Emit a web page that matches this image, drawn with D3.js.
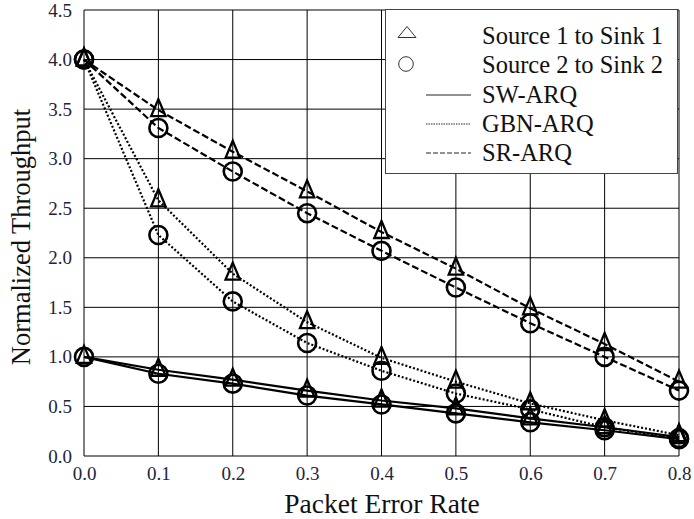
<!DOCTYPE html>
<html>
<head>
<meta charset="utf-8">
<script src="https://cdn.jsdelivr.net/npm/d3@7"></script>
<style>
  body { margin: 0; background: #fff; }
  text { font-family: "Liberation Serif", "Times New Roman", serif; }
</style>
</head>
<body>
<script>
"use strict";

const width = 694;
const height = 519;

const per = [0.0, 0.1, 0.2, 0.3, 0.4, 0.5, 0.6, 0.7, 0.8];
const xTicks = [0.0, 0.1, 0.2, 0.3, 0.4, 0.5, 0.6, 0.7, 0.8];
const yTicks = [0.0, 0.5, 1.0, 1.5, 2.0, 2.5, 3.0, 3.5, 4.0, 4.5];

// Source 1 to Sink 1 (triangles)
const sw1 = [1.0, 0.87, 0.77, 0.66, 0.56, 0.48, 0.38, 0.29, 0.19];
const gbn1 = [4.0, 2.58, 1.84, 1.35, 0.99, 0.75, 0.53, 0.36, 0.21];
const sr1 = [4.0, 3.49, 3.07, 2.67, 2.26, 1.89, 1.49, 1.13, 0.75];
// Source 2 to Sink 2 (circles)
const sw2 = [1.0, 0.83, 0.73, 0.61, 0.52, 0.43, 0.34, 0.26, 0.17];
const gbn2 = [4.0, 2.23, 1.56, 1.14, 0.86, 0.63, 0.47, 0.29, 0.18];
const sr2 = [4.0, 3.31, 2.87, 2.45, 2.07, 1.70, 1.34, 1.00, 0.66];

const series = [
  { name: "SW-ARQ", values: sw1, marker: "triangle", dash: null },
  { name: "SW-ARQ", values: sw2, marker: "circle", dash: null },
  { name: "GBN-ARQ", values: gbn1, marker: "triangle", dash: "2,2" },
  { name: "GBN-ARQ", values: gbn2, marker: "circle", dash: "2,2" },
  { name: "SR-ARQ", values: sr1, marker: "triangle", dash: "7,3" },
  { name: "SR-ARQ", values: sr2, marker: "circle", dash: "7,3" }
];

const margin = { top: 10, right: 15, bottom: 63, left: 84 };

const svg = d3.select("body").append("svg")
  .attr("width", width)
  .attr("height", height);

const x = d3.scaleLinear().domain([0, 0.8]).range([margin.left, width - margin.right]);
const y = d3.scaleLinear().domain([0, 4.5]).range([height - margin.bottom, margin.top]);

// grid
const grid = svg.append("g").attr("class", "grid");
grid.selectAll(".vline").data(xTicks).enter().append("line")
  .attr("x1", d => x(d)).attr("x2", d => x(d))
  .attr("y1", y(0)).attr("y2", y(4.5))
  .attr("stroke", "#000").attr("stroke-width", 1);
grid.selectAll(".hline").data(yTicks).enter().append("line")
  .attr("x1", x(0)).attr("x2", x(0.8))
  .attr("y1", d => y(d)).attr("y2", d => y(d))
  .attr("stroke", "#000").attr("stroke-width", 1);

// axes (labels only)
const xAxis = svg.append("g")
  .attr("transform", `translate(0,${y(0)})`)
  .call(d3.axisBottom(x).tickValues(xTicks).tickFormat(d3.format(".1f")).tickSize(0).tickPadding(11));
const yAxis = svg.append("g")
  .attr("transform", `translate(${x(0)},0)`)
  .call(d3.axisLeft(y).tickValues(yTicks).tickFormat(d3.format(".1f")).tickSize(0).tickPadding(12));
[xAxis, yAxis].forEach(a => {
  a.select(".domain").remove();
  a.selectAll("text")
    .attr("font-family", "Liberation Serif")
    .attr("font-size", 19)
    .attr("fill", "#22243a");
});

svg.append("text")
  .attr("x", 382)
  .attr("y", 513)
  .attr("text-anchor", "middle")
  .attr("font-size", 27.5)
  .attr("fill", "#111")
  .text("Packet Error Rate");

svg.append("text")
  .attr("transform", `translate(30,237) rotate(-90)`)
  .attr("text-anchor", "middle")
  .attr("font-size", 26.5)
  .attr("fill", "#111")
  .text("Normalized Throughput");

// lines
const line = d3.line()
  .x((d, i) => x(per[i]))
  .y(d => y(d));

// tall open triangle, data point a bit below its centre
const triPath = d3.path();
triPath.moveTo(0, -11);
triPath.lineTo(7.2, 6);
triPath.lineTo(-7.2, 6);
triPath.closePath();

const plot = svg.append("g");
series.forEach(s => {
  plot.append("path")
    .attr("d", line(s.values))
    .attr("fill", "none")
    .attr("stroke", "#000")
    .attr("stroke-width", 2.2)
    .attr("stroke-dasharray", s.dash);
});

series.forEach(s => {
  const g = plot.append("g");
  if (s.marker === "circle") {
    g.selectAll("circle").data(s.values).enter().append("circle")
      .attr("cx", (d, i) => x(per[i]))
      .attr("cy", d => y(d))
      .attr("r", 9)
      .attr("fill", "none")
      .attr("stroke", "#000")
      .attr("stroke-width", 2.6);
  } else {
    g.selectAll("path").data(s.values).enter().append("path")
      .attr("d", triPath.toString())
      .attr("transform", (d, i) => `translate(${x(per[i])},${y(d)})`)
      .attr("fill", "none")
      .attr("stroke", "#000")
      .attr("stroke-width", 2.3);
  }
});

// legend
const legend = svg.append("g");
legend.append("rect")
  .attr("x", 385.5).attr("y", 9.5)
  .attr("width", 292).attr("height", 164)
  .attr("fill", "#fff")
  .attr("stroke", "#444").attr("stroke-width", 1);

const markerRows = [
  { label: "Source 1 to Sink 1", marker: "triangle", cy: 32, base: 43.5 },
  { label: "Source 2 to Sink 2", marker: "circle", cy: 64, base: 72.5 }
];
const lineRows = [
  { label: "SW-ARQ", dash: null, cy: 95, base: 102.5 },
  { label: "GBN-ARQ", dash: "1.5,1", cy: 124, base: 131.5 },
  { label: "SR-ARQ", dash: "5,2", cy: 153, base: 160.5 }
];

markerRows.forEach(r => {
  if (r.marker === "circle") {
    legend.append("circle").attr("cx", 406).attr("cy", r.cy).attr("r", 7.3)
      .attr("fill", "none").attr("stroke", "#333").attr("stroke-width", 1);
  } else {
    legend.append("path")
      .attr("d", "M0,-5.5L9,5.5L-9,5.5Z")
      .attr("transform", `translate(407,${r.cy})`)
      .attr("fill", "none").attr("stroke", "#333").attr("stroke-width", 1);
  }
  legend.append("text").attr("x", 482).attr("y", r.base)
    .attr("font-size", 24.5).attr("fill", "#111").text(r.label);
});

lineRows.forEach(r => {
  legend.append("line")
    .attr("x1", 426).attr("x2", 471)
    .attr("y1", r.cy).attr("y2", r.cy)
    .attr("stroke", "#222").attr("stroke-width", 1)
    .attr("stroke-dasharray", r.dash);
  legend.append("text").attr("x", 482).attr("y", r.base)
    .attr("font-size", 24.5).attr("fill", "#111").text(r.label);
});
</script>
</body>
</html>
